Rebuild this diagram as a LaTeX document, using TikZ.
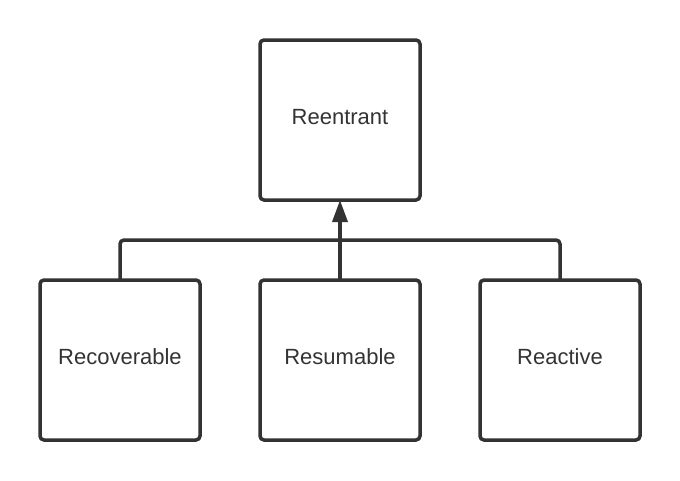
\documentclass[tikz,border=0pt]{standalone}
\usepackage{fontspec}
\setmainfont{Liberation Sans}
\usetikzlibrary{arrows.meta}
\definecolor{ink}{HTML}{333333}

\begin{document}
\begin{tikzpicture}[x=1pt, y=-1pt,
  box/.style={draw=ink, line width=3.5pt, rounded corners=4pt, minimum width=160pt,
    minimum height=160pt, inner sep=0pt, outer sep=0pt, text=ink,
    text height=16pt, text depth=8pt, font=\fontsize{22}{26}\selectfont},
  link/.style={draw=ink, line width=3.5pt}]
\useasboundingbox (0,0) rectangle (680,480);
\node [box] (reentrant) at (340,120) {Reentrant};
\node [box] (recoverable) at (120,360) {Recoverable};
\node [box] (resumable) at (340,360) {Resumable};
\node [box] (reactive) at (560,360) {Reactive};
\draw [link, rounded corners=4pt] (recoverable.north) -- ++(0,-40) -| (reactive.north);
\draw [link, -{Triangle[length=22pt, width=15pt]}] (resumable.north) -- (reentrant.south);
\end{tikzpicture}
\end{document}
